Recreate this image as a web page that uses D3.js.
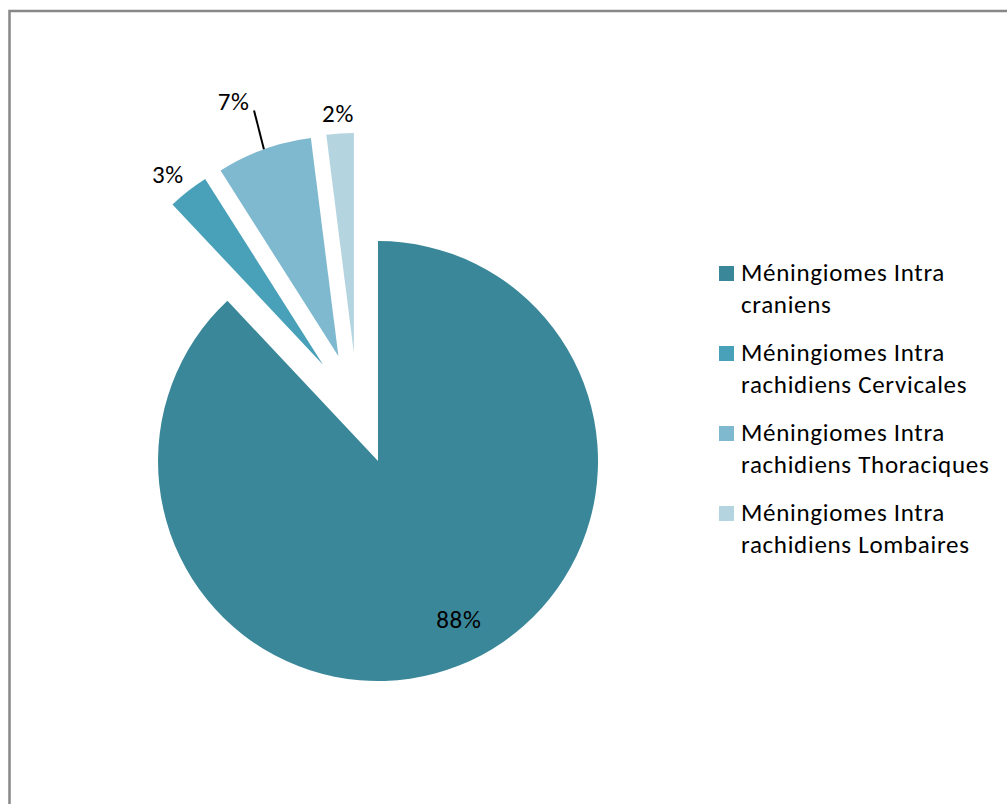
<!DOCTYPE html>
<html>
<head>
<meta charset="utf-8">
<script src="https://cdn.jsdelivr.net/npm/d3@7"></script>
<style>
  html, body { margin: 0; padding: 0; background: #fff; }
  svg { display: block; }
  text { font-family: Carlito, Calibri, Lato, "Open Sans", sans-serif; fill: #000; letter-spacing: 0.7px; }
</style>
</head>
<body>
<svg id="chart" width="1007" height="804"></svg>
<script>
// Répartition des méningiomes selon la localisation
const categories = [
  ["Méningiomes Intra", "craniens"],
  ["Méningiomes Intra", "rachidiens Cervicales"],
  ["Méningiomes Intra", "rachidiens Thoraciques"],
  ["Méningiomes Intra", "rachidiens Lombaires"]
];
const values = [88, 3, 7, 2];
const colors = ["#3A8799", "#48A1B8", "#7FB9CF", "#B4D4E0"];

// Layout
const W = 1007, H = 804;
const cx = 357.4, cy = 409, R = 220, explode = 56;
const fontSize = 25;
// label distance from each slice's apex and small angular nudge (degrees)
const labelDist = [178, 246, 276, 240];
const labelNudge = [-5.4, -1.3, -2.5, -0.2];
const leaderFor = [false, false, true, false];

const svg = d3.select("#chart");

// chart frame
svg.append("path")
  .attr("d", `M9.5,${H + 5} V11 H${W + 5}`)
  .attr("fill", "none")
  .attr("stroke", "#888")
  .attr("stroke-width", 2.5);

const pie = d3.pie().sort(null).value(d => d)(values);
const arc = d3.arc().innerRadius(0).outerRadius(R);

const g = svg.append("g").attr("transform", `translate(${cx},${cy})`);

const polar = (a, r) => [r * Math.sin(a), -r * Math.cos(a)];

const slices = g.selectAll("g.slice")
  .data(pie)
  .join("g")
  .attr("class", "slice")
  .attr("transform", d => {
    const [x, y] = polar((d.startAngle + d.endAngle) / 2, explode);
    return `translate(${x},${y})`;
  });

slices.append("path")
  .attr("d", arc)
  .attr("fill", (d, i) => colors[i]);

// leader lines
slices.filter((d, i) => leaderFor[i])
  .append("line")
  .each(function (d) {
    const mid = (d.startAngle + d.endAngle) / 2;
    const [x1, y1] = polar(mid, R);
    const [x2, y2] = polar(mid + 0.015, R + 40);
    d3.select(this).attr("x1", x1).attr("y1", y1).attr("x2", x2).attr("y2", y2);
  })
  .attr("stroke", "#000")
  .attr("stroke-width", 2);

// percentage labels
slices.append("text")
  .attr("transform", (d, i) => {
    const mid = (d.startAngle + d.endAngle) / 2 + labelNudge[i] * Math.PI / 180;
    const [x, y] = polar(mid, labelDist[i]);
    return `translate(${x},${y})`;
  })
  .attr("text-anchor", "middle")
  .attr("dy", "0.35em")
  .style("font-size", fontSize + "px")
  .text(d => d.value + "%");

// legend
const legend = svg.append("g").attr("transform", "translate(719,281)");
const item = legend.selectAll("g")
  .data(categories)
  .join("g")
  .attr("transform", (d, i) => `translate(0,${i * 80})`);

item.append("rect")
  .attr("x", 0).attr("y", -15)
  .attr("width", 15).attr("height", 15)
  .attr("fill", (d, i) => colors[i]);

item.append("text")
  .attr("x", 22)
  .style("font-size", fontSize + "px")
  .selectAll("tspan")
  .data(d => d)
  .join("tspan")
  .attr("x", 22)
  .attr("y", (d, j) => j * 32)
  .text(d => d);
</script>
</body>
</html>
